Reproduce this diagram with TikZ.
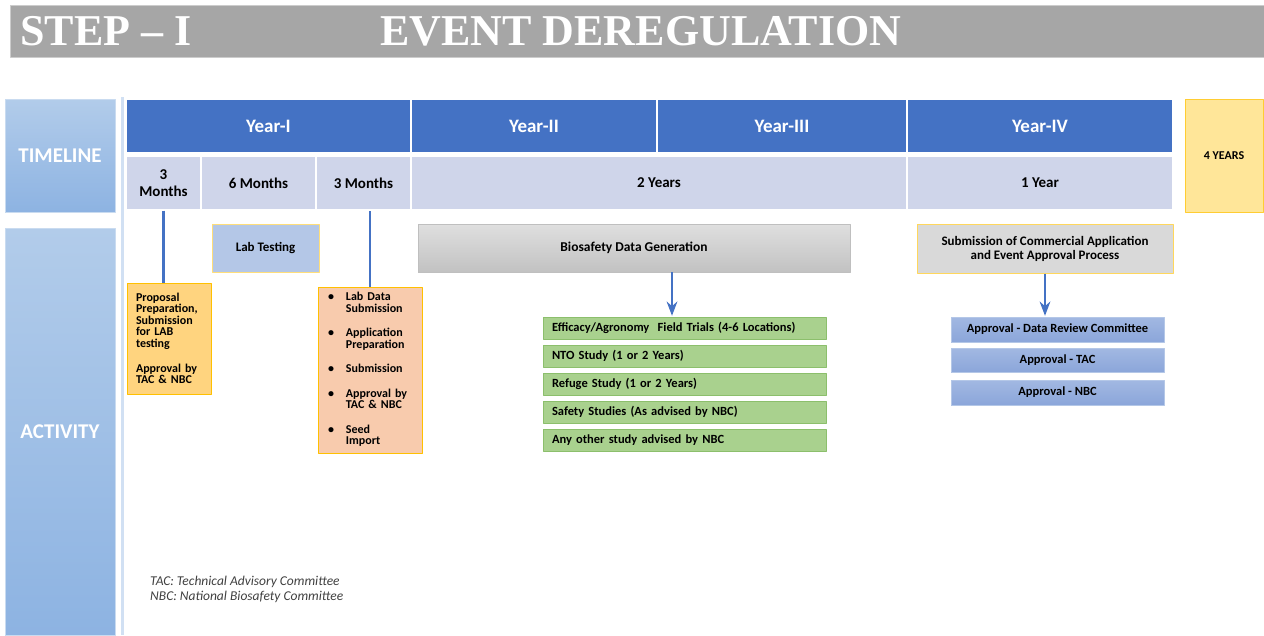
\documentclass[tikz,border=0pt]{standalone}
\usepackage{fontspec}
\setmainfont{Carlito}
\newfontfamily\titlefont{Liberation Serif}
\usetikzlibrary{arrows.meta}
\definecolor{titlegray}{HTML}{A6A6A6}
\definecolor{hdrblue}{HTML}{4472C4}
\definecolor{rowlav}{HTML}{CFD5EA}
\definecolor{sidetop}{HTML}{B2CCEA}
\definecolor{sidebot}{HTML}{8DB3E2}
\definecolor{yearfill}{HTML}{FFE699}
\definecolor{gold}{HTML}{FFC000}
\definecolor{propfill}{HTML}{FFD47F}
\definecolor{labfill}{HTML}{B4C7E7}
\definecolor{bulfill}{HTML}{F8CBAD}
\definecolor{grnfill}{HTML}{A9D18E}
\definecolor{grnline}{HTML}{8CBF6C}
\definecolor{apptop}{HTML}{A2B8E2}
\definecolor{appbot}{HTML}{8BA6DA}
\newcommand{\fsz}[2]{\fontsize{#1}{#2}\selectfont\hyphenpenalty=10000}
\begin{document}
\begin{tikzpicture}[>=Stealth,x=1pt,y=-1pt,line join=round,
	side/.style={top color=sidetop,bottom color=sidebot,draw=sidetop!70,inner sep=0,
		text=white,font=\bfseries\fsz{21}{24}},
	yearcell/.style={fill=hdrblue,draw=white,line width=1.2pt,inner sep=0,minimum height=54,
		text=white,font=\bfseries\fsz{19}{22}},
	spancell/.style={fill=rowlav,draw=white,line width=1.2pt,inner sep=0,minimum height=54,
		font=\bfseries\fsz{15}{17},align=center},
	greenbox/.style={fill=grnfill,draw=grnline,minimum width=283,minimum height=22,inner sep=0,
		text width=265,align=left,font=\bfseries\fsz{12.5}{14}},
	apprbox/.style={top color=apptop,bottom color=appbot,draw=labfill,minimum width=213,inner sep=0,
		font=\bfseries\fsz{12.5}{14}},
	link/.style={draw=hdrblue,line width=2.5pt},
	arr/.style={->,draw=hdrblue,line width=2.5pt,shorten >=1pt}]
\useasboundingbox (0,0) rectangle (1264,635);
% title bar
\node[fill=titlegray,draw=gray!40,minimum width=1256,minimum height=52,inner sep=0] (bar) at (638,31) {};
\node[anchor=base west,text=white,inner sep=0,font=\titlefont\bfseries\fsz{44}{46}] (step) at (20,45) {STEP – I};
\node[anchor=base west,text=white,inner sep=0,font=\titlefont\bfseries\fsz{44}{46}] (title) at (380,45) {EVENT DEREGULATION};
% left labels
\node[side,minimum width=110,minimum height=113] (tl) at (60,155.5) {TIMELINE};
\node[side,minimum width=110,minimum height=407] (act) at (60,431.5) {ACTIVITY};
\draw[sidetop!60,line width=3pt] (122,97) -- (122,635);
% timeline rows
\node[yearcell,minimum width=285] (y1) at (268.5,126) {Year-I};
\node[yearcell,minimum width=246] (y2) at (534,126) {Year-II};
\node[yearcell,minimum width=250] (y3) at (782,126) {Year-III};
\node[yearcell,minimum width=266] (y4) at (1040,126) {Year-IV};
\node[spancell,minimum width=75] (m1) at (163.5,183) {3\\Months};
\node[spancell,minimum width=115] (m2) at (258.5,183) {6 Months};
\node[spancell,minimum width=95] (m3) at (363.5,183) {3 Months};
\node[spancell,minimum width=496] (twoyr) at (659,183) {2 Years};
\node[spancell,minimum width=266] (oneyr) at (1040,183) {1 Year};
\node[fill=yearfill,draw=gold!80,minimum width=78,minimum height=113,inner sep=0,
	font=\bfseries\fsz{12}{14}] (four) at (1224,155.5) {4 YEARS};
% activities, year I
\node[fill=labfill,draw=yearfill!80!gold,line width=1pt,minimum width=107,minimum height=48,
	inner sep=0,font=\bfseries\fsz{13}{15}] (lab) at (265.5,248) {Lab Testing};
\node[fill=propfill,draw=gold,minimum width=84,minimum height=111,inner sep=0,text width=66,
	align=left,font=\bfseries\fsz{12}{11.5}] (prop) at (169,338.5)
	{Proposal Preparation, Submission for LAB testing\\[13.5pt]Approval by TAC \& NBC};
\node[fill=bulfill,draw=gold,minimum width=104,minimum height=166,inner sep=0,text width=104,
	align=left,font=\bfseries\fsz{12}{11.5}] (bul) at (370,370) {%
	\begin{tabular}{@{\hspace{10pt}}l@{\hspace{12pt}}l@{}}
	\textbullet & Lab Data\\ & Submission\\[12.5pt]
	\textbullet & Application\\ & Preparation\\[12.5pt]
	\textbullet & Submission\\[12.5pt]
	\textbullet & Approval by\\ & TAC \& NBC\\[12.5pt]
	\textbullet & Seed\\ & Import
	\end{tabular}};
\draw[link] (m1.south) -- (m1.south |- prop.north);
\draw[link] (bul.north) -- (bul.north |- m3.south);
% years II and III
\node[top color=gray!25,bottom color=gray!48,draw=gray!50,minimum width=432,minimum height=48,
	inner sep=0,font=\bfseries\fsz{13.5}{15}] (bio) at (634,248) {Biosafety Data Generation};
\node[greenbox] (g1) at (684.5,328) {Efficacy/Agronomy\ \ Field Trials (4-6 Locations)};
\node[greenbox] (g2) at (684.5,356) {NTO Study (1 or 2 Years)};
\node[greenbox] (g3) at (684.5,384) {Refuge Study (1 or 2 Years)};
\node[greenbox] (g4) at (684.5,412) {Safety Studies (As advised by NBC)};
\node[greenbox] (g5) at (684.5,440) {Any other study advised by NBC};
\draw[arr] ([xshift=-12.5pt]g1.north |- bio.south) -- ([xshift=-12.5pt]g1.north);
% year IV
\node[fill=gray!30,draw=yearfill!60!gold,line width=1pt,minimum width=256,minimum height=49,
	inner sep=0,align=center,font=\bfseries\fsz{13}{14}] (sub) at (1045,248.5)
	{Submission of Commercial Application\\and Event Approval Process};
\node[apprbox,minimum height=25] (a1) at (1057.5,329.5) {Approval - Data Review Committee};
\node[apprbox,minimum height=24] (a2) at (1057.5,360) {Approval - TAC};
\node[apprbox,minimum height=25] (a3) at (1057.5,392.5) {Approval - NBC};
\draw[arr] (sub.south) -- (sub.south |- a1.north);
% abbreviations
\node[anchor=base west,inner sep=0,text=black!75,font=\itshape\fsz{13.5}{15}] (n1) at (150,585) {TAC: Technical Advisory Committee};
\node[anchor=base west,inner sep=0,text=black!75,font=\itshape\fsz{13.5}{15}] (n2) at (150,600) {NBC: National Biosafety Committee};
\end{tikzpicture}
\end{document}
